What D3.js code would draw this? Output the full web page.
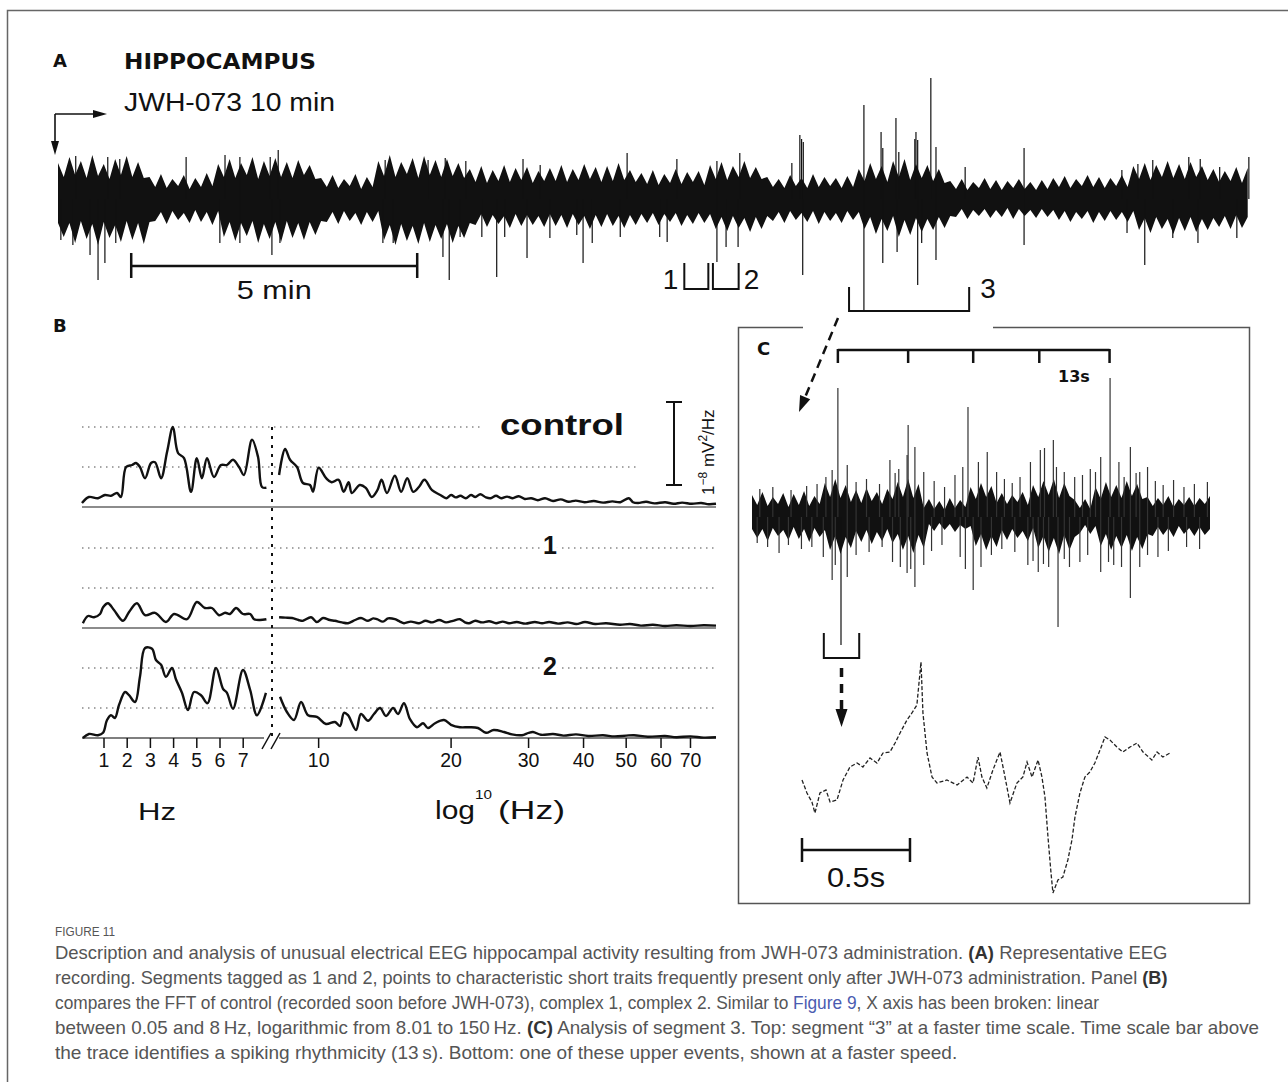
<!DOCTYPE html>
<html>
<head>
<meta charset="utf-8">
<title>Figure 11</title>
<script src="https://cdn.jsdelivr.net/npm/d3@7"></script>
<style>
  body { margin: 0; background: #fff; }
  svg text { font-family: "Liberation Sans", Arial, sans-serif; fill: #111; }
</style>
</head>
<body>
<svg id="fig" width="1288" height="1082"></svg>
<script>
//Panel A: EEG envelope read every 0.1 min (amplitude above / below baseline)
var stepA = 0.1;
var envTopA = [36,22,42,24,38,21,44,23,35,20,40,24,43,22,37,21,
  22,12,25,11,20,13,24,10,21,12,26,13,
  35,22,40,21,36,24,42,20,38,23,41,22,37,21,39,24,34,20,
  21,12,24,11,20,13,25,10,22,12,
  38,23,44,22,37,25,41,21,43,24,39,22,40,23,36,21,
  30,17,33,16,29,18,34,17,31,19,32,16,28,18,
  31,18,34,17,30,19,35,20,32,17,33,18,36,19,29,17,
  26,15,29,14,25,16,30,15,27,17,28,14,
  34,20,37,19,33,22,38,21,32,20,
  22,12,20,11,24,13,21,11,25,12,22,13,21,11,23,12,
  30,18,36,20,33,17,38,22,40,19,35,21,34,18,30,16,
  18,10,20,9,17,11,21,10,19,9,18,11,20,10,17,9,19,10,
  21,12,23,11,20,13,24,12,22,11,21,13,24,12,
  33,20,36,19,34,22,38,21,35,20,37,22,33,19,
  30,17,28,18,32,16,31];
var envBotA = [-24,-38,-24,-44,-22,-40,-25,-46,-23,-39,-26,-43,-22,-41,-24,-45,
  -23,-22,-13,-25,-12,-21,-14,-24,-11,-23,-13,-26,
  -12,-38,-23,-42,-24,-37,-22,-44,-25,-40,-23,-43,-22,-39,-24,-41,-23,-36,
  -22,-23,-13,-25,-12,-22,-14,-26,-13,-23,
  -12,-41,-26,-46,-25,-42,-27,-45,-24,-43,-26,-40,-25,-44,-27,-39,
  -24,-26,-15,-28,-16,-25,-17,-29,-15,-27,-16,-26,-17,-28,
  -15,-27,-16,-29,-15,-26,-17,-30,-16,-28,-15,-27,-17,-29,-16,-26,
  -15,-24,-14,-26,-15,-23,-14,-27,-16,-25,-14,-24,
  -15,-30,-18,-32,-17,-29,-19,-33,-18,-30,
  -17,-22,-13,-24,-12,-21,-14,-23,-12,-25,-13,-22,-14,-24,-12,-21,
  -13,-30,-18,-35,-20,-32,-17,-38,-21,-36,-19,-33,-20,-31,-18,-29,
  -17,-18,-10,-20,-11,-17,-10,-19,-11,-18,-9,-20,-10,-17,-11,-19,-10,-18,
  -11,-21,-12,-23,-13,-20,-12,-24,-13,-22,-12,-21,-13,-23,
  -12,-31,-19,-34,-18,-30,-20,-35,-19,-32,-18,-33,-20,-31,
  -19,-28,-17,-30,-16,-29,-18];
//Spikes [time (min), amplitude]
var spikesUpA = [[0.31,43],[0.87,42],[1.08,40],[2.24,42],[2.92,44],[3.18,42],[3.71,42],[3.85,49],[5.72,39],
  [6.47,39],[6.77,41],[7.13,38],[8.13,40],[8.43,34],[9.95,46],[10.82,40],[11.52,38],[11.92,46],[12.83,36],
  [12.97,64],[13.0,60],[13.03,57],[14.09,94],[14.39,67],[14.42,51],[14.65,81],[14.7,47],[14.98,60],[15.0,67],
  [15.03,59],[15.26,121],[15.35,52],[15.86,32],[16.89,51],[18.6,29],[18.88,35],[19.14,39],[19.77,42],
  [19.97,40],[20.31,32],[20.82,42]];
var spikesDownA = [[0.05,41],[0.26,46],[0.56,56],[0.7,81],[0.82,64],[1.01,44],[2.83,44],[3.18,44],[3.74,56],
  [3.88,44],[5.68,44],[5.86,44],[6.73,58],[6.84,81],[7.03,38],[7.41,38],[7.67,78],[7.81,38],[8.2,59],[8.6,39],
  [9.07,36],[9.18,64],[9.34,44],[9.83,38],[10.52,38],[10.65,43],[11.52,63],[11.68,48],[11.89,48],[13.02,76],
  [14.42,64],[14.67,53],[15.03,86],[15.1,44],[15.35,61],[16.89,46],[18.69,34],[19.0,66],[19.49,39],
  [19.93,44],[20.61,39]];
//Tagged segments (min)
var segmentsA = [{ label: "1", t0: 10.95, t1: 11.37 }, { label: "2", t0: 11.45, t1: 11.9 }, { label: "3", t0: 13.83, t1: 15.93 }];

//Panel B: FFT spectra (Hz, power in grid units)
var linTicks = [1, 2, 3, 4, 5, 6, 7];
var logTicks = [10, 20, 30, 40, 50, 60, 70];
var ctrlLinHz = [0.05,0.35,0.74,1.04,1.3,1.56,1.73,1.95,2.21,2.38,2.55,2.77,3.03,3.2,3.46,3.72,3.97,4.19,4.45,
  4.75,5.0,5.22,5.44,5.74,6.04,6.3,6.56,6.82,7.03,7.38,7.64,7.81,8.0];
var ctrlLinVal = [0.1,0.25,0.22,0.3,0.28,0.35,0.25,1.0,1.05,1.1,1.0,0.72,1.1,1.12,0.72,1.38,2.0,1.35,1.22,
  0.38,1.22,0.72,1.22,0.75,1.05,1.05,1.18,1.0,0.8,1.68,1.25,0.5,0.48];
var ctrlLogHz = [8.13,8.39,8.61,8.93,9.21,9.56,9.71,10.0,10.4,10.7,11.1,11.4,11.7,11.9,12.4,12.8,13.2,13.6,13.9,
  14.3,14.9,15.4,15.9,16.4,16.9,17.4,18.1,18.9,19.5,20.0,20.5,21.0,21.6,22.2,22.7,23.3,24.0,24.6,25.3,26.0,
  26.8,27.6,28.5,29.4,30.4,31.5,32.7,34.1,35.5,37.0,38.4,40.2,42.2,44.3,46.5,48.5,50.7,51.8,53.2,55.5,58.0,
  61.3,64.0,67.0,70.5,74.0,77.0,80];
var ctrlLogVal = [0.8,1.45,1.18,1.0,0.6,0.55,0.38,0.98,0.72,0.62,0.68,0.38,0.62,0.35,0.55,0.48,0.25,0.42,0.68,
  0.35,0.78,0.38,0.72,0.38,0.5,0.68,0.42,0.3,0.22,0.3,0.24,0.28,0.22,0.3,0.25,0.32,0.24,0.22,0.28,0.22,
  0.26,0.22,0.27,0.2,0.22,0.17,0.22,0.15,0.19,0.13,0.16,0.12,0.15,0.11,0.14,0.12,0.22,0.12,0.1,0.13,0.09,
  0.12,0.08,0.11,0.08,0.1,0.07,0.08];
var c1LinHz = [0.09,0.31,0.57,0.83,0.96,1.17,1.43,1.82,2.08,2.42,2.77,3.2,3.67,4.02,4.58,5.0,5.35,5.65,5.96,
  6.22,6.43,6.69,6.99,7.3,7.47,7.72,8.0];
var c1LinVal = [0.12,0.3,0.27,0.35,0.52,0.62,0.45,0.18,0.4,0.62,0.32,0.38,0.15,0.35,0.22,0.65,0.5,0.5,0.32,
  0.38,0.35,0.5,0.35,0.35,0.22,0.2,0.22];
var c1LogHz = [8.13,8.4,8.7,9.0,9.21,9.61,9.91,10.23,10.6,10.89,11.3,11.66,12.1,12.48,12.95,13.3,13.57,14.0,
  14.38,14.91,15.3,15.63,16.2,16.91,17.5,18.1,18.8,19.48,20.2,20.95,21.5,21.96,22.7,23.51,24.4,25.3,26.2,
  27.08,28.2,29.5,31,32.2,33.4,35,36.8,38.5,40.3,42.5,45,48.4,51,54,57.5,61.25,65,70,75,80];
var c1LogVal = [0.27,0.26,0.25,0.2,0.18,0.27,0.15,0.25,0.2,0.18,0.14,0.12,0.2,0.25,0.18,0.24,0.22,0.16,
  0.24,0.22,0.16,0.12,0.16,0.12,0.18,0.14,0.2,0.14,0.18,0.22,0.14,0.12,0.18,0.14,0.17,0.12,0.16,
  0.12,0.15,0.11,0.15,0.12,0.15,0.11,0.14,0.1,0.15,0.1,0.12,0.08,0.1,0.06,0.08,0.05,0.07,0.05,0.07,0.06];
var c2LinHz = [0.09,0.35,0.74,0.96,1.13,1.3,1.47,1.65,1.91,2.08,2.34,2.55,2.77,3.07,3.24,3.46,3.67,3.93,4.1,
  4.36,4.62,4.88,5.18,5.46,5.83,6.13,6.3,6.56,6.99,7.3,7.59,7.98];
var c2LinVal = [0.25,0.35,0.32,0.38,0.7,0.82,0.75,1.08,1.4,1.32,1.15,1.78,2.5,2.48,2.2,2.08,1.78,2.0,1.72,
  1.38,0.95,1.4,1.32,1.12,2.0,1.48,1.38,0.98,1.95,1.45,0.82,1.38];
var c2LogHz = [8.17,8.47,8.79,9.12,9.46,9.91,10.39,10.89,11.18,11.42,11.66,12.16,12.48,12.95,13.36,13.79,
  14.23,14.76,15.15,15.63,16.13,16.73,17.27,17.72,18.39,19.27,19.99,20.95,21.96,23.02,24.01,25,26.38,27.5,
  28.98,30,30.7,32,34.1,36,38.45,41,44.29,47,50,52.08,56,61.25,65,70,75,80];
var c2LogVal = [1.28,0.9,0.7,1.15,0.82,0.78,0.6,0.65,0.55,0.88,0.82,0.45,0.85,0.68,0.85,1.0,0.8,1.0,0.85,1.12,
  0.72,0.52,0.62,0.5,0.62,0.7,0.58,0.52,0.52,0.5,0.38,0.45,0.4,0.34,0.32,0.38,0.4,0.33,0.35,0.31,
  0.34,0.3,0.32,0.29,0.31,0.32,0.28,0.3,0.27,0.29,0.26,0.27];

//Panel C: segment 3 envelope read every 1 s, spikes [time (s), amplitude]
var stepC = 1;
var envTopC = [22,12,25,11,20,13,24,10,23,12,26,11,21,13,
  34,20,38,19,32,
  15,27,14,29,16,25,13,28,
  18,35,20,38,19,33,
  9,18,8,16,7,19,9,17,
  10,30,18,34,20,31,
  14,24,13,22,15,25,12,
  32,20,36,22,38,19,34,21,
  17,9,18,8,
  30,18,35,20,32,19,36,21,33,18,
  20,11,19,12,21,10,18,12,20,11,19,13,21];
var envBotC = [-12,-21,-12,-24,-11,-19,-13,-23,-10,-22,-12,-25,-11,-20,
  -13,-33,-19,-37,-20,
  -31,-14,-25,-13,-27,-15,-24,-12,
  -26,-17,-33,-19,-36,-18,
  -31,-7,-14,-6,-13,-7,-15,-8,
  -12,-9,-29,-17,-33,-19,
  -30,-13,-23,-12,-21,-14,-24,
  -11,-31,-19,-35,-21,-37,-18,-33,
  -20,-16,-8,-17,
  -9,-29,-17,-33,-19,-31,-18,-34,-20,-32,
  -17,-19,-10,-18,-11,-20,-9,-17,-11,-19,-10,-18,-12];
var spikesUpC = [[15.4,47],[16.5,129],[18.3,52],[26.5,57],[28.2,48],[29.8,62],[30.0,92],[31.3,70],[33,45],
  [40.5,50],[41.5,110],[43.5,55],[45.2,65],[47,45],[53.5,55],[55.4,67],[56.2,69],[57.9,77],[60,45],[62,40],
  [65,48],[67,60],[68.8,139],[70.5,55],[72.7,70],[74.5,45],[76,50],[81,37],
  [1.5,28],[4,30],[7.5,27],[10.5,31],[12.5,33],[14.2,40],[20,35],[22,38],[24.5,33],[27.5,44],[35,36],
  [37,30],[39,42],[48.5,38],[50,34],[51.5,40],[58.5,50],[63.5,42],[66,45],[71.5,40],[73.8,44],[77.5,36],
  [79,32],[83,30],[85,33],[87.5,35]];
var spikesDownC = [[5.2,36],[13.7,40],[15.4,63],[18.3,60],[27,45],[28.5,50],[29.8,56],[31.3,70],[33,48],
  [41,52],[42.5,73],[44,50],[53,48],[55,55],[57,50],[58.8,110],[61,50],[63,45],[67,55],[69.5,48],[72.7,81],
  [74.5,50],[78,40],
  [1,26],[3,30],[7,28],[9.5,32],[11.5,30],[16,48],[20,38],[22.5,35],[25,30],[30.5,52],[34.5,34],[36.5,28],
  [40,40],[46,38],[48,32],[50.5,35],[54,44],[56,47],[60,42],[64.5,38],[68.5,45],[71,50],[76,38],[80,34],
  [83.5,30],[86,32]];
var rhythmTicks = [16.5, 30, 42.5, 55.2, 68.7];
//One event at a faster speed (s, amplitude)
var evT = [0,0.023,0.046,0.06,0.083,0.111,0.13,0.162,0.19,0.222,0.255,0.282,0.315,0.347,0.375,0.407,0.431,
  0.454,0.486,0.509,0.532,0.551,0.56,0.579,0.602,0.625,0.671,0.718,0.764,0.792,0.815,0.833,0.856,0.884,0.917,
  0.94,0.963,0.995,1.023,1.042,1.065,1.093,1.111,1.125,1.139,1.153,1.162,1.185,1.208,1.231,1.25,1.264,1.287,
  1.31,1.333,1.356,1.38,1.403,1.426,1.458,1.486,1.519,1.551,1.579,1.62,1.644,1.671,1.704];
var evA = [10,-3,-12,-23,-3,0,-12,-10,10,23,27,23,32,27,37,38,47,57,70,77,85,128,77,37,13,7,10,5,13,7,33,13,2,
  20,38,13,-13,7,13,28,13,30,13,-7,-47,-83,-103,-90,-87,-70,-50,-27,-3,13,18,27,40,53,50,43,38,43,47,38,30,
  38,33,37];

var svg = d3.select("#fig");
var ink = "#111";

//Helpers
function addText(g, x, y, str, size, opt) {
	opt = opt || {};
	var t = g.append("text")
		.attr("x", x)
		.attr("y", y)
		.attr("font-size", size)
		.attr("text-anchor", opt.anchor || "start")
		.text(str);
	if (opt.bold) t.attr("font-weight", "bold");
	if (opt.family) t.style("font-family", opt.family);
	if (opt.len) t.attr("textLength", opt.len).attr("lengthAdjust", "spacingAndGlyphs");
	return t;
}

function arrow(g, x1, y1, x2, y2, len, wid, w, dash) {
	var a = Math.atan2(y2 - y1, x2 - x1);
	var bx = x2 - len * Math.cos(a), by = y2 - len * Math.sin(a);
	g.append("line")
		.attr("x1", x1).attr("y1", y1).attr("x2", bx).attr("y2", by)
		.attr("stroke", ink).attr("stroke-width", w)
		.attr("stroke-dasharray", dash || null);
	var px = -Math.sin(a) * wid / 2, py = Math.cos(a) * wid / 2;
	g.append("path")
		.attr("d", "M" + x2 + "," + y2 + "L" + (bx + px) + "," + (by + py) + "L" + (bx - px) + "," + (by - py) + "Z")
		.attr("fill", ink);
}

function bracket(g, x0, x1, yTop, yBot, w) {
	g.append("path")
		.attr("d", "M" + x0 + "," + yTop + "V" + yBot + "H" + x1 + "V" + yTop)
		.attr("fill", "none").attr("stroke", ink).attr("stroke-width", w);
}

function drawTrace(g, x, y, step, top, bot, ups, downs, hair) {
	var env = top.map(function(v, i) { return { t: i * step, hi: v, lo: bot[i] }; });
	g.append("path").datum(env)
		.attr("d", d3.area()
			.x(function(d) { return x(d.t); })
			.y0(function(d) { return y(d.lo); })
			.y1(function(d) { return y(d.hi); }))
		.attr("fill", ink);
	g.selectAll(null).data(ups).enter().append("line")
		.attr("x1", function(d) { return x(d[0]); })
		.attr("x2", function(d) { return x(d[0]); })
		.attr("y1", y(0))
		.attr("y2", function(d) { return y(d[1]); })
		.attr("stroke", hair).attr("stroke-width", 1.2);
	g.selectAll(null).data(downs).enter().append("line")
		.attr("x1", function(d) { return x(d[0]); })
		.attr("x2", function(d) { return x(d[0]); })
		.attr("y1", y(0))
		.attr("y2", function(d) { return y(-d[1]); })
		.attr("stroke", hair).attr("stroke-width", 1.2);
}

//Outer frame (open to the right and bottom)
svg.append("path")
	.attr("d", "M7.5,1082V10.5H1288")
	.attr("fill", "none").attr("stroke", "#666").attr("stroke-width", 1.5);

//----- Panel A -----
var gA = svg.append("g");
addText(gA, 53, 67, "A", 18, { bold: true, family: "DejaVu Sans" });
addText(gA, 124, 69, "HIPPOCAMPUS", 22, { bold: true, family: "DejaVu Sans", len: 192 });
addText(gA, 124, 111, "JWH-073 10 min", 25, { len: 211 });
arrow(gA, 55, 114, 107, 114, 14, 8, 1.6);
arrow(gA, 55, 114, 55, 155, 14, 8, 1.6);

var xA = d3.scaleLinear().domain([0, 20.84]).range([58, 1250]);
var yA = d3.scaleLinear().domain([-100, 100]).range([299, 99]);
drawTrace(gA, xA, yA, stepA, envTopA, envBotA, spikesUpA, spikesDownA, ink);

//5 min scale bar
var sb = gA.append("g").attr("stroke", ink).attr("stroke-width", 2.5);
sb.append("line").attr("x1", xA(1.28)).attr("x2", xA(6.28)).attr("y1", 266).attr("y2", 266);
[1.28, 6.28].forEach(function(t) {
	sb.append("line").attr("x1", xA(t)).attr("x2", xA(t)).attr("y1", 253).attr("y2", 278);
});
addText(gA, (xA(1.28) + xA(6.28)) / 2, 299, "5 min", 26, { anchor: "middle", len: 75 });

//Segment brackets 1, 2, 3
bracket(gA, xA(segmentsA[0].t0), xA(segmentsA[0].t1), 263, 289, 2);
bracket(gA, xA(segmentsA[1].t0), xA(segmentsA[1].t1), 263, 289, 2);
bracket(gA, xA(segmentsA[2].t0), xA(segmentsA[2].t1), 287, 311, 2);
addText(gA, xA(segmentsA[0].t0) - 6, 289, segmentsA[0].label, 28, { anchor: "end" });
addText(gA, xA(segmentsA[1].t1) + 5, 289, segmentsA[1].label, 28);
addText(gA, xA(segmentsA[2].t1) + 11, 298, segmentsA[2].label, 28);
gA.append("line")
	.attr("x1", xA(14.09)).attr("x2", xA(14.09)).attr("y1", yA(0)).attr("y2", 311)
	.attr("stroke", ink).attr("stroke-width", 1.2);
arrow(svg, 838, 318, 799, 412, 16, 11, 2.5, "9,6");

//----- Panel B -----
var gB = svg.append("g");
addText(gB, 53, 332, "B", 18, { bold: true, family: "DejaVu Sans" });

var xLin = d3.scaleLinear().domain([0, 8]).range([80.8, 266.4]);
var xLog = d3.scaleLog().domain([8, 80]).range([276, 716]);

var panels = [
	{ label: "control", zero: 507, axis: 507, ends: [480, 638], lin: [ctrlLinHz, ctrlLinVal], log: [ctrlLogHz, ctrlLogVal] },
	{ label: "1", zero: 628, axis: 628, ends: [716, 716], lin: [c1LinHz, c1LinVal], log: [c1LogHz, c1LogVal] },
	{ label: "2", zero: 748, axis: 738, ends: [716, 716], lin: [c2LinHz, c2LinVal], log: [c2LogHz, c2LogVal] }
];

panels.forEach(function(p) {
	var y = d3.scaleLinear().domain([0, 2]).range([p.zero, p.zero - 80]);
	//dotted grid at 1 and 2 units
	[1, 2].forEach(function(v, i) {
		gB.append("line")
			.attr("x1", 82).attr("x2", p.ends[1 - i])
			.attr("y1", y(v)).attr("y2", y(v))
			.attr("stroke", "#888").attr("stroke-width", 1.5).attr("stroke-dasharray", "1.5,4.5");
	});
	//baseline
	if (p.label === "2") {
		gB.append("line").attr("x1", 82).attr("x2", 264).attr("y1", p.axis).attr("y2", p.axis)
			.attr("stroke", "#555").attr("stroke-width", 1.5);
		gB.append("line").attr("x1", 279).attr("x2", 716).attr("y1", p.axis).attr("y2", p.axis)
			.attr("stroke", "#555").attr("stroke-width", 1.5);
	} else {
		gB.append("line").attr("x1", 82).attr("x2", 716).attr("y1", p.axis).attr("y2", p.axis)
			.attr("stroke", "#666").attr("stroke-width", 1.5);
	}
	var lineLin = d3.line().curve(d3.curveCatmullRom.alpha(0.5))
		.x(function(d) { return xLin(d[0]); })
		.y(function(d) { return y(d[1]); });
	var lineLog = d3.line().curve(d3.curveCatmullRom.alpha(0.5))
		.x(function(d) { return xLog(d[0]); })
		.y(function(d) { return y(d[1]); });
	gB.append("path").datum(d3.zip(p.lin[0], p.lin[1]))
		.attr("d", lineLin).attr("fill", "none").attr("stroke", ink).attr("stroke-width", 2.4)
		.attr("stroke-linejoin", "round");
	gB.append("path").datum(d3.zip(p.log[0], p.log[1]))
		.attr("d", lineLog).attr("fill", "none").attr("stroke", ink).attr("stroke-width", 2.4)
		.attr("stroke-linejoin", "round");
});

//panel names
addText(gB, 500, 435, "control", 30, { bold: true, len: 124 });
["1", "2"].forEach(function(s, i) {
	addText(gB, 550, i === 0 ? 554 : 675, s, 25, { bold: true, anchor: "middle" })
		.attr("stroke", "#fff").attr("stroke-width", 8).attr("paint-order", "stroke");
});

//dotted break line between linear and log parts
gB.append("line").attr("x1", 272).attr("x2", 272).attr("y1", 427).attr("y2", 742)
	.attr("stroke", ink).attr("stroke-width", 2).attr("stroke-dasharray", "3,6");
//axis break marks
gB.append("line").attr("x1", 262).attr("y1", 749).attr("x2", 271).attr("y2", 733).attr("stroke", ink).attr("stroke-width", 1.5);
gB.append("line").attr("x1", 271).attr("y1", 749).attr("x2", 280).attr("y2", 733).attr("stroke", ink).attr("stroke-width", 1.5);

//ticks and tick labels
var tickData = linTicks.map(function(v) { return { x: xLin(v), v: v }; })
	.concat(logTicks.map(function(v) { return { x: xLog(v), v: v }; }));
gB.selectAll(null).data(tickData).enter().append("line")
	.attr("x1", function(d) { return d.x; }).attr("x2", function(d) { return d.x; })
	.attr("y1", 738).attr("y2", 748)
	.attr("stroke", ink).attr("stroke-width", 1.5);
gB.selectAll(null).data(tickData).enter().append("text")
	.attr("x", function(d) { return d.x; }).attr("y", 767)
	.attr("text-anchor", "middle").attr("font-size", 19.5)
	.text(function(d) { return d.v; });

addText(gB, 138, 820, "Hz", 24, { len: 38 });
addText(gB, 435, 819, "log", 25, { len: 40 });
addText(gB, 475, 799, "10", 13, { len: 17 });
addText(gB, 498, 819, "(Hz)", 25, { len: 67 });

//power scale bar
var psb = gB.append("g").attr("stroke", ink).attr("stroke-width", 2);
psb.append("line").attr("x1", 674).attr("x2", 674).attr("y1", 402).attr("y2", 485);
psb.append("line").attr("x1", 666).attr("x2", 682).attr("y1", 402).attr("y2", 402);
psb.append("line").attr("x1", 666).attr("x2", 682).attr("y1", 485).attr("y2", 485);
var ptxt = gB.append("text")
	.attr("transform", "translate(714,495) rotate(-90)")
	.attr("font-size", 17);
ptxt.append("tspan").text("1");
ptxt.append("tspan").attr("font-size", 12).attr("dy", -7).text("\u22128");
ptxt.append("tspan").attr("dy", 7).text(" mV");
ptxt.append("tspan").attr("font-size", 12).attr("dy", -7).text("2");
ptxt.append("tspan").attr("dy", 7).text("/Hz");

//----- Panel C -----
var gC = svg.append("g");
gC.append("path")
	.attr("d", "M803,327.5H738.5V903.5H1249.5V327.5H993")
	.attr("fill", "none").attr("stroke", "#555").attr("stroke-width", 1.5);
addText(gC, 757, 355, "C", 18, { bold: true, family: "DejaVu Sans" });

var xC = d3.scaleLinear().domain([0, 88]).range([752, 1210]);
var yC = d3.scaleLinear().domain([-100, 100]).range([617, 417]);

//13 s rhythm bar
var rb = gC.append("g").attr("stroke", ink).attr("stroke-width", 2.5);
rb.append("line").attr("x1", xC(rhythmTicks[0])).attr("x2", xC(rhythmTicks[rhythmTicks.length - 1]))
	.attr("y1", 350).attr("y2", 350);
rhythmTicks.forEach(function(t) {
	rb.append("line").attr("x1", xC(t)).attr("x2", xC(t)).attr("y1", 349).attr("y2", 363);
});
addText(gC, 1058, 382, "13s", 16, { bold: true, family: "DejaVu Sans" });

drawTrace(gC, xC, yC, stepC, envTopC, envBotC, spikesUpC, spikesDownC, "#333");

bracket(gC, xC(13.8), xC(20.6), 633, 658, 2);
gC.append("line").attr("x1", xC(17.1)).attr("x2", xC(17.1)).attr("y1", yC(0)).attr("y2", 645)
	.attr("stroke", ink).attr("stroke-width", 1.2);
arrow(gC, xC(17.2), 668, xC(17.2), 727, 18, 12, 3.5, "9,7");

//event at faster speed
var xE = d3.scaleLinear().domain([0, 1.704]).range([802, 1170]);
var yE = d3.scaleLinear().domain([-100, 100]).range([890, 690]);
gC.append("path").datum(d3.zip(evT, evA))
	.attr("d", d3.line().x(function(d) { return xE(d[0]); }).y(function(d) { return yE(d[1]); }))
	.attr("fill", "none").attr("stroke", "#222").attr("stroke-width", 1.3)
	.attr("stroke-dasharray", "4,2");

var eb = gC.append("g").attr("stroke", ink).attr("stroke-width", 2.5);
eb.append("line").attr("x1", xE(0)).attr("x2", xE(0.5)).attr("y1", 850).attr("y2", 850);
[0, 0.5].forEach(function(t) {
	eb.append("line").attr("x1", xE(t)).attr("x2", xE(t)).attr("y1", 838).attr("y2", 862);
});
addText(gC, (xE(0) + xE(0.5)) / 2, 887, "0.5s", 28, { anchor: "middle", len: 58 });

//----- Caption -----
var gCap = svg.append("g");
addText(gCap, 55, 936, "FIGURE 11", 12.5, { len: 60 }).style("fill", "#555");
var capLines = [
	{ y: 959, w: 1113, parts: [["Description and analysis of unusual electrical EEG hippocampal activity resulting from JWH-073 administration. "], ["(A)", "b"], [" Representative EEG"]] },
	{ y: 984, w: 1113, parts: [["recording. Segments tagged as 1 and 2, points to characteristic short traits frequently present only after JWH-073 administration. Panel "], ["(B)", "b"]] },
	{ y: 1009, w: 1045, parts: [["compares the FFT of control (recorded soon before JWH-073), complex 1, complex 2. Similar to "], ["Figure 9", "link"], [", X axis has been broken: linear"]] },
	{ y: 1034, w: 1205, parts: [["between 0.05 and 8\u2009Hz, logarithmic from 8.01 to 150\u2009Hz. "], ["(C)", "b"], [" Analysis of segment 3. Top: segment \u201c3\u201d at a faster time scale. Time scale bar above"]] },
	{ y: 1059, w: 903, parts: [["the trace identifies a spiking rhythmicity (13\u2009s). Bottom: one of these upper events, shown at a faster speed."]] }
];
capLines.forEach(function(l) {
	var t = gCap.append("text")
		.attr("x", 0).attr("y", 0)
		.attr("font-size", 17.5)
		.style("fill", "#555");
	l.parts.forEach(function(p) {
		var s = t.append("tspan").text(p[0]);
		if (p[1] === "b") s.attr("font-weight", "bold").style("fill", "#333");
		if (p[1] === "link") s.style("fill", "#4a5bb0");
	});
	//stretch each line to the width it has in the original layout
	var natural = t.node().getComputedTextLength();
	t.attr("transform", "translate(55," + l.y + ") scale(" + (l.w / natural) + ",1)");
});
</script>
</body>
</html>
